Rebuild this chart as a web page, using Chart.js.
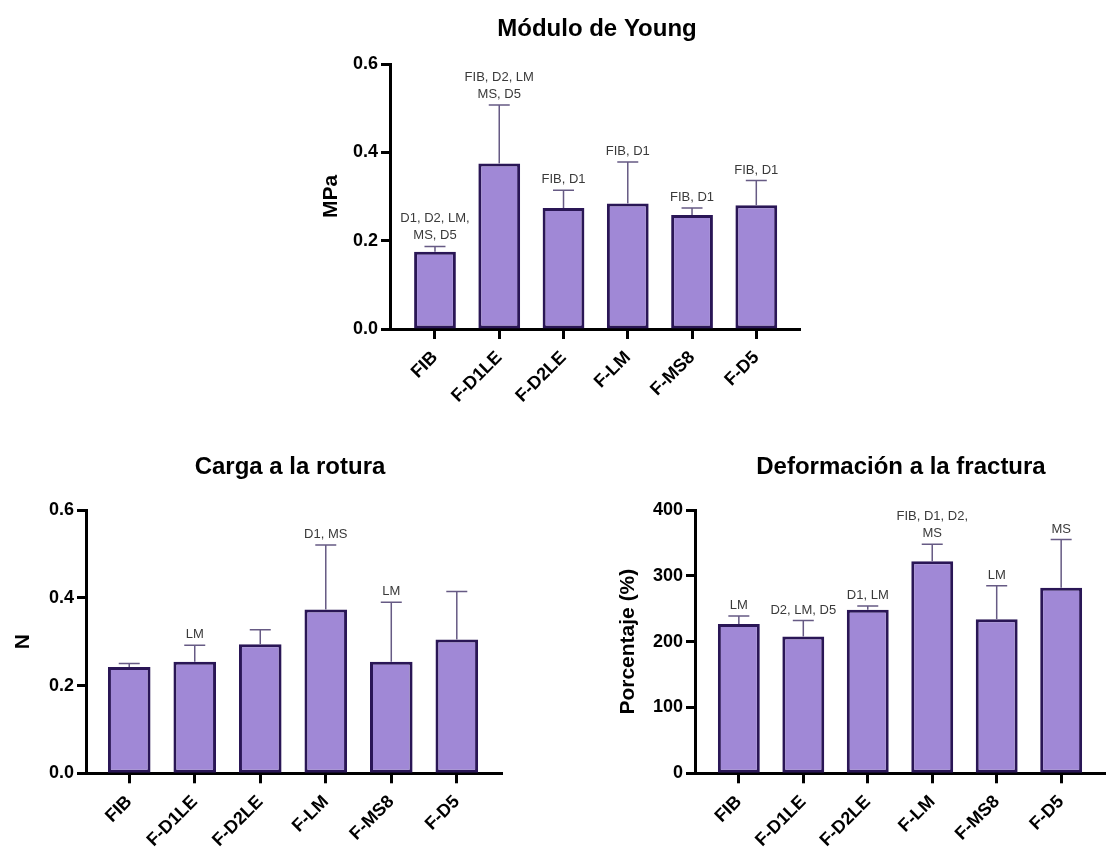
<!DOCTYPE html>
<html><head><meta charset="utf-8">
<script src="https://cdn.jsdelivr.net/npm/chart.js@4.4.1/dist/chart.umd.min.js"></script>
<style>
html,body{margin:0;padding:0;background:#fff;overflow:hidden;width:1112px;height:855px}
.box{position:absolute}
</style></head><body>
<div class="box" style="left:297px;top:0;width:600px;height:415px"><canvas id="c1" width="600" height="415"></canvas></div>
<div class="box" style="left:0;top:420px;width:580px;height:435px"><canvas id="c2" width="580" height="435"></canvas></div>
<div class="box" style="left:601px;top:420px;width:600px;height:435px"><canvas id="c3" width="600" height="435"></canvas></div>
<script>
const categories = ['FIB','F-D1LE','F-D2LE','F-LM','F-MS8','F-D5'];

// Módulo de Young (MPa)
const youngMean = [0.175, 0.375, 0.274, 0.284, 0.258, 0.280];
const youngSD   = [0.012, 0.132, 0.040, 0.094, 0.016, 0.056];
const youngNotes = [['D1, D2, LM,','MS, D5'],['FIB, D2, LM','MS, D5'],['FIB, D1'],['FIB, D1'],['FIB, D1'],['FIB, D1']];
const youngTicks = [0, 0.2, 0.4, 0.6];

// Carga a la rotura (N)
const cargaMean = [0.242, 0.254, 0.294, 0.373, 0.254, 0.305];
const cargaSD   = [0.008, 0.038, 0.033, 0.147, 0.136, 0.109];
const cargaNotes = [[],['LM'],[],['D1, MS'],['LM'],[]];
const cargaTicks = [0, 0.2, 0.4, 0.6];

// Deformación a la fractura (%)
const deformMean = [227, 208, 248.5, 322, 234, 282];
const deformSD   = [12, 24, 5.5, 26, 51, 73];
const deformNotes = [['LM'],['D2, LM, D5'],['D1, LM'],['FIB, D1, D2,','MS'],['LM'],['MS']];
const deformTicks = [0, 100, 200, 300, 400];

Chart.defaults.font.family = '"Liberation Sans", Arial, Helvetica, sans-serif';
Chart.defaults.color = '#000';

function errPlugin(means, sds, notes){
  return {
    id: 'errbars',
    afterDatasetsDraw(chart){
      const ctx = chart.ctx, y = chart.scales.y;
      const meta = chart.getDatasetMeta(0);
      ctx.save();
      meta.data.forEach((bar, i) => {
        const x = bar.x;
        const yb = y.getPixelForValue(means[i]);
        const yt = y.getPixelForValue(means[i] + sds[i]);
        ctx.strokeStyle = '#665a84';
        ctx.lineWidth = 1.5;
        ctx.beginPath();
        ctx.moveTo(x, yb); ctx.lineTo(x, yt);
        ctx.moveTo(x - 10.5, yt); ctx.lineTo(x + 10.5, yt);
        ctx.stroke();
        const lines = notes[i] || [];
        ctx.fillStyle = '#3a3a3a';
        ctx.font = '13px "Liberation Sans", Arial, sans-serif';
        ctx.textAlign = 'center';
        ctx.textBaseline = 'alphabetic';
        lines.forEach((t, k) => {
          ctx.fillText(t, x, yt - 7 - (lines.length - 1 - k) * 17);
        });
      });
      ctx.restore();
    }
  };
}

function makeChart(id, o){
  const ticksVals = o.yTicks;
  new Chart(document.getElementById(id), {
    type: 'bar',
    data: {
      datasets: [{
        data: o.means.map((v, i) => ({x: i, y: v})),
        backgroundColor: '#a088d6',
        borderColor: '#2a1656',
        borderWidth: 3,
        borderSkipped: false,
        barPercentage: 0.65,
        categoryPercentage: 1
      }]
    },
    options: {
      responsive: false,
      animation: false,
      events: [],
      layout: {padding: 0},
      plugins: {
        legend: {display: false},
        tooltip: {enabled: false},
        title: {
          display: true, text: o.title, color: '#000',
          font: {size: 24, weight: 'bold'},
          padding: {top: o.tTop, bottom: o.tBottom}
        }
      },
      scales: {
        x: {
          type: 'linear', min: o.xMin, max: o.xMax, offset: false,
          afterBuildTicks: s => { s.ticks = categories.map((c, i) => ({value: i})); },
          afterFit: s => { s.height = o.xHeight; },
          ticks: {
            autoSkip: false, minRotation: 45, maxRotation: 45, padding: 8,
            color: '#000', font: {size: 18, weight: 'bold'},
            callback: v => categories[v]
          },
          grid: {display: true, offset: false, drawOnChartArea: false, drawTicks: true, tickLength: 10, tickWidth: 3, tickColor: '#000'},
          border: {display: true, color: '#000', width: 3}
        },
        y: {
          min: 0, max: ticksVals[ticksVals.length - 1],
          afterBuildTicks: s => { s.ticks = ticksVals.map(v => ({value: v})); },
          afterFit: s => { s.width = o.yWidth; },
          ticks: {
            padding: 3, color: '#000', font: {size: 18, weight: 'bold'},
            callback: v => v.toFixed(o.dec)
          },
          title: {
            display: true, text: o.yTitle, color: '#000',
            font: {size: 21, weight: 'bold'},
            padding: {top: o.yTitlePad, bottom: 0}
          },
          grid: {display: true, drawOnChartArea: false, drawTicks: true, tickLength: 9, tickWidth: 3, tickColor: '#000'},
          border: {display: true, color: '#000', width: 3}
        },
        yRight: {
          position: 'right', min: 0, max: 1,
          afterFit: s => { s.width = o.rightWidth; },
          ticks: {display: false},
          grid: {display: false, drawTicks: false},
          border: {display: false}
        }
      }
    },
    plugins: [errPlugin(o.means, o.sds, o.notes)]
  });
}

makeChart('c1', {
  title: 'Módulo de Young', yTitle: 'MPa', means: youngMean, sds: youngSD, notes: youngNotes,
  yTicks: youngTicks, dec: 1, xMin: -0.70, xMax: 5.68,
  yWidth: 93, rightWidth: 97, xHeight: 86, tTop: 14.6, tBottom: 20.6, yTitlePad: 21.4
});
makeChart('c2', {
  title: 'Carga a la rotura', yTitle: 'N', means: cargaMean, sds: cargaSD, notes: cargaNotes,
  yTicks: cargaTicks, dec: 1, xMin: -0.66, xMax: 5.69,
  yWidth: 86, rightWidth: 78, xHeight: 81.7, tTop: 32.6, tBottom: 28.6, yTitlePad: 10.9
});
makeChart('c3', {
  title: 'Deformación a la fractura', yTitle: 'Porcentaje (%)', means: deformMean, sds: deformSD, notes: deformNotes,
  yTicks: deformTicks, dec: 0, xMin: -0.68, xMax: 5.68,
  yWidth: 94, rightWidth: 96, xHeight: 81.7, tTop: 32.6, tBottom: 28.6, yTitlePad: 14.9
});
</script>
</body></html>
